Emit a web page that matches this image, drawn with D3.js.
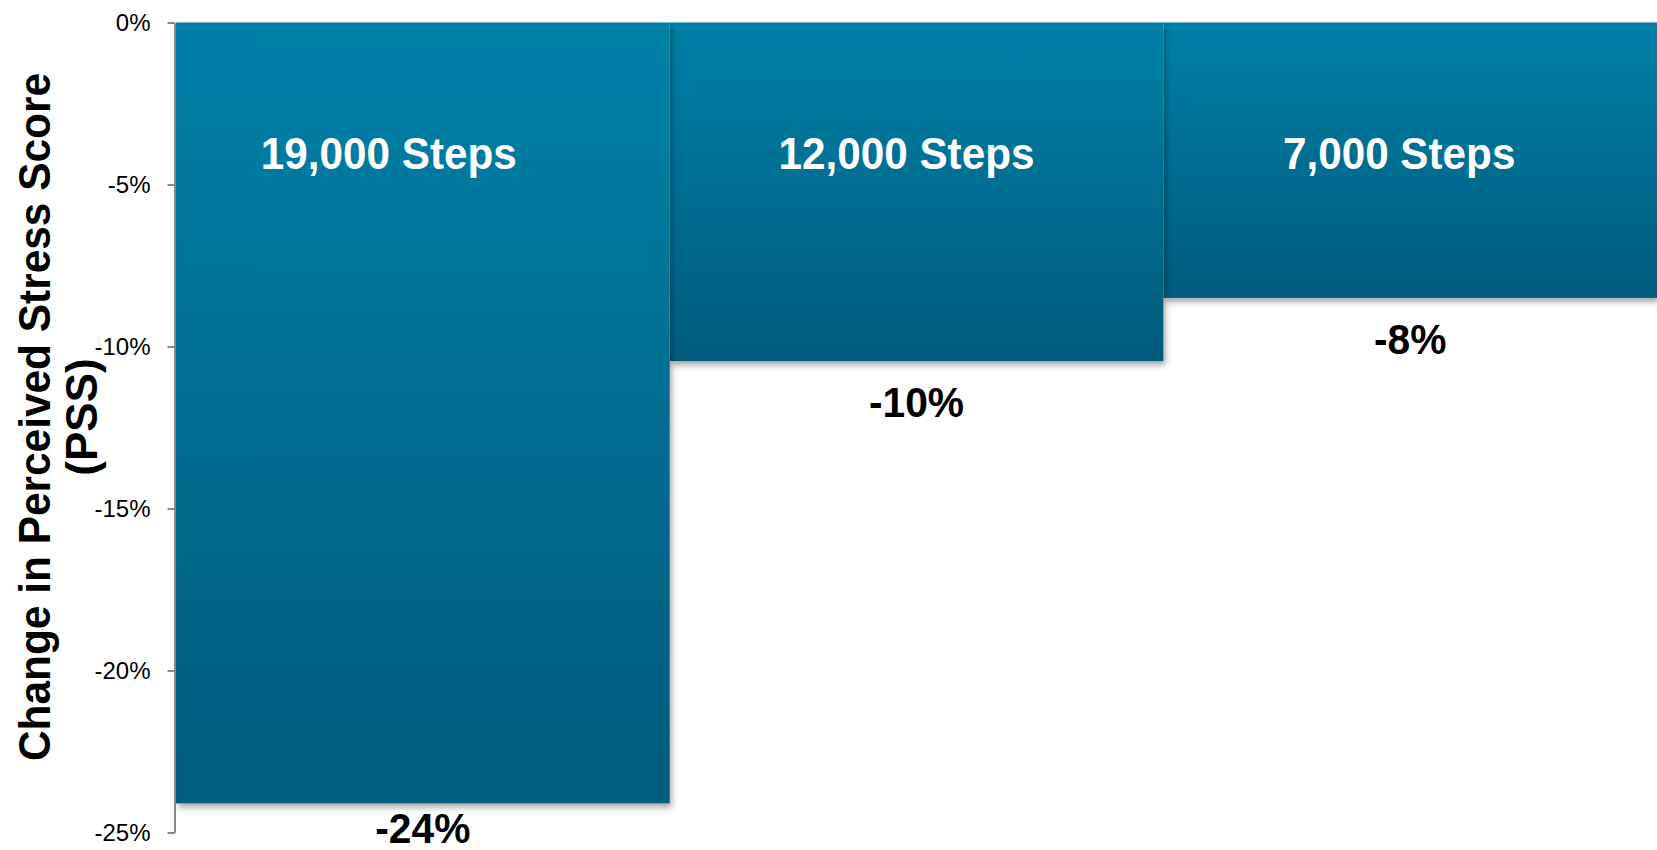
<!DOCTYPE html>
<html>
<head>
<meta charset="utf-8">
<script src="https://cdn.jsdelivr.net/npm/d3@7"></script>
<style>
  html, body { margin: 0; padding: 0; background: #fff; }
  #chart { width: 1657px; height: 850px; }
  svg { display: block; font-family: "Liberation Sans", Arial, sans-serif; }
</style>
</head>
<body>
<div id="chart"></div>
<script>
// data
const categories = ["19,000 Steps", "12,000 Steps", "7,000 Steps"];
const changes = [-24.1, -10.45, -8.5];
const valueLabels = ["-24%", "-10%", "-8%"];
const yTicks = [0, -5, -10, -15, -20, -25];
const titleLines = ["Change in Perceived Stress Score", "(PSS)"];

const Chart = (() => {
    const container = document.querySelector("#chart");
    const width = 1657;
    const height = 850;
    const margin = { top: 22.5, right: 0, bottom: 17.5, left: 175 };
    // the labels inside the bars sit a little left of centre in the original
    const nameShift = [-34, -10, -11];
    const svg = d3.select(container)
        .append("svg")
        .attr("width", width)
        .attr("height", height)
        .attr("viewBox", [0, 0, width, height]);

    const defs = svg.append("defs");
    const grad = defs.append("linearGradient")
        .attr("id", "barFill")
        .attr("x1", 0).attr("y1", 0)
        .attr("x2", 0).attr("y2", 1);
    grad.append("stop").attr("offset", "0%").attr("stop-color", "#0080a8");
    grad.append("stop").attr("offset", "100%").attr("stop-color", "#005b7b");

    const shadow = defs.append("filter")
        .attr("id", "shadow")
        .attr("x", "-5%").attr("y", "-5%")
        .attr("width", "115%").attr("height", "120%");
    shadow.append("feDropShadow")
        .attr("dx", 2).attr("dy", 4)
        .attr("stdDeviation", 3)
        .attr("flood-color", "#000")
        .attr("flood-opacity", 0.35);

    const data = categories.map((name, i) => ({
        name,
        value: changes[i],
        label: valueLabels[i],
        shift: nameShift[i]
    }));

    function render() {
        const x = d3.scaleBand()
            .domain(categories)
            .range([margin.left + 1, width - margin.right])
            .padding(0);
        const y = d3.scaleLinear()
            .domain([0, -25])
            .range([margin.top, height - margin.bottom]);

        // bars (right to left so the left bar's shadow sits on top)
        svg.append("g")
          .selectAll("rect")
          .data(data.slice().reverse())
          .join("rect")
            .attr("x", d => x(d.name))
            .attr("y", y(0))
            .attr("width", x.bandwidth())
            .attr("height", d => y(d.value) - y(0))
            .attr("fill", "url(#barFill)")
            .attr("filter", "url(#shadow)");

        // y axis
        const yAxis = svg.append("g")
            .attr("transform", `translate(${margin.left - 0.5},0)`)
            .call(d3.axisLeft(y)
                .tickValues(yTicks)
                .tickFormat(d => d + "%")
                .tickSize(7)
                .tickPadding(17)
                .tickSizeOuter(0));
        yAxis.select(".domain")
            .attr("stroke", "#888")
            .attr("stroke-width", 2);
        yAxis.selectAll(".tick line")
            .attr("stroke", "#888")
            .attr("stroke-width", 2);
        yAxis.selectAll(".tick text")
            .attr("fill", "#000")
            .attr("font-size", 24)
            .attr("font-family", "'Liberation Sans', Arial, sans-serif");

        // category labels inside the bars
        svg.append("g")
            .attr("text-anchor", "middle")
            .attr("font-weight", "bold")
            .attr("font-size", 44)
            .attr("fill", "#fff")
          .selectAll("text")
          .data(data)
          .join("text")
            .attr("x", d => x(d.name) + x.bandwidth() / 2 + d.shift)
            .attr("y", y(0) + 146.5)
            .text(d => d.name)
            .each(function () {
                this.setAttribute("textLength", this.getComputedTextLength() * 0.96);
                this.setAttribute("lengthAdjust", "spacingAndGlyphs");
            });

        // value labels under the bars
        svg.append("g")
            .attr("text-anchor", "middle")
            .attr("font-weight", "bold")
            .attr("font-size", 42)
            .attr("fill", "#000")
          .selectAll("text")
          .data(data)
          .join("text")
            .attr("x", d => x(d.name) + x.bandwidth() / 2)
            .attr("y", d => Math.min(y(d.value) + 56, height - 7))
            .text(d => d.label)
            .each(function () {
                this.setAttribute("textLength", this.getComputedTextLength() * 0.97);
                this.setAttribute("lengthAdjust", "spacingAndGlyphs");
            });

        // axis title, two lines, rotated
        const cy = 417;
        svg.append("g")
            .attr("font-weight", "bold")
            .attr("font-size", 44)
            .attr("text-anchor", "middle")
            .attr("fill", "#000")
          .selectAll("text")
          .data(titleLines)
          .join("text")
            .attr("transform", (d, i) => `translate(${50 + i * 47},${cy}) rotate(-90)`)
            .text(d => d)
            .each(function (d, i) {
                if (i === 0) {
                    this.setAttribute("textLength", 688);
                    this.setAttribute("lengthAdjust", "spacingAndGlyphs");
                }
            });
    }

    return { render };
})();

Chart.render();
</script>
</body>
</html>
